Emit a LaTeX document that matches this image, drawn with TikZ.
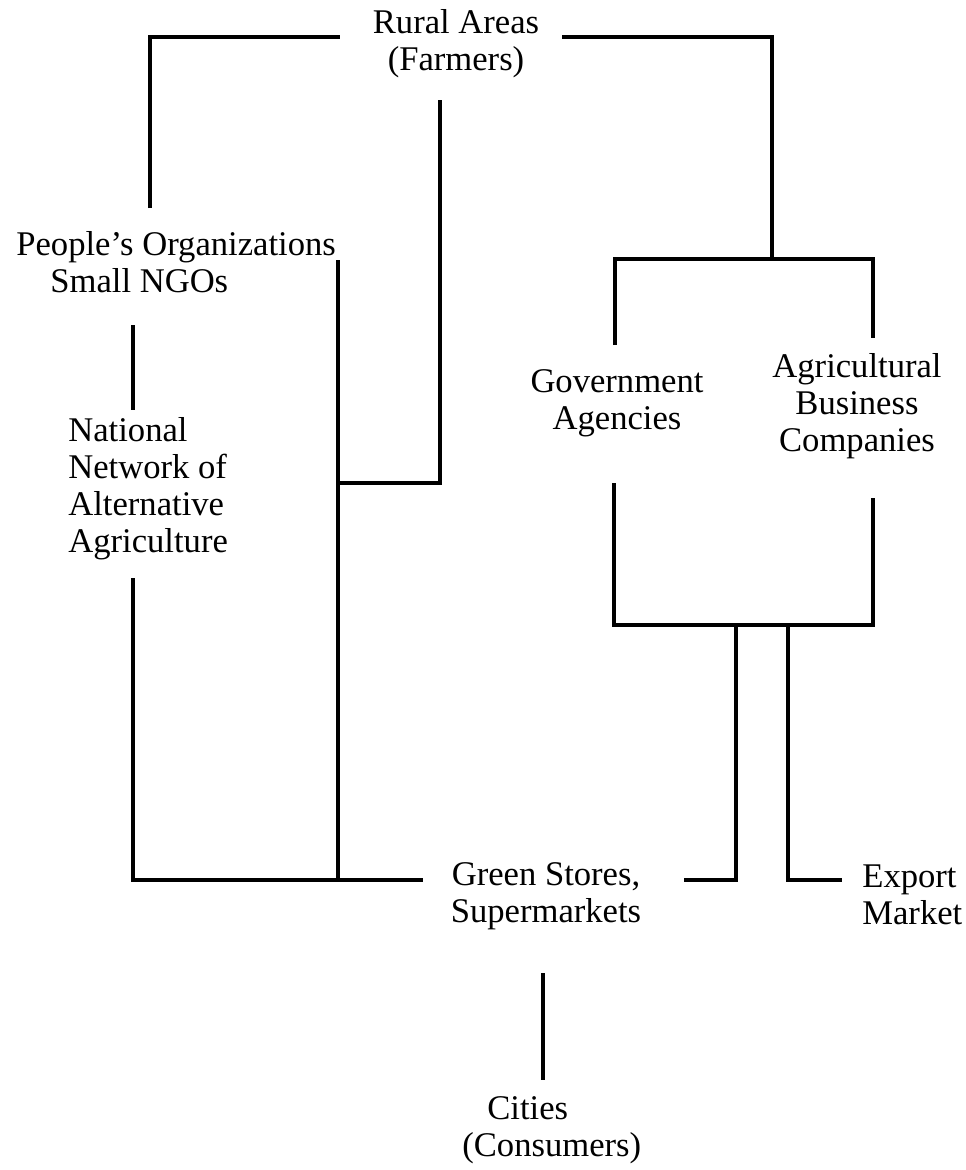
\documentclass[tikz,border=0pt]{standalone}
\usepackage{fontspec}
\setmainfont{Liberation Serif}
\begin{document}
\begin{tikzpicture}[x=0.02cm, y=-0.02cm,
    link/.style={line width=1.9pt, black},
    lbl/.style={font=\fontsize{19.7}{21}\selectfont, inner sep=0pt}]
        \useasboundingbox (0,0) rectangle (966,1170);

        % texts
        \node[lbl, align=center] (rural) at (456,44) {Rural Areas\\(Farmers)};
        \node[lbl, align=left, anchor=west] (people) at (16,262) {People's Organizations\\\hspace*{0.68cm}Small NGOs};
        \node[lbl, align=left, anchor=west] (network) at (68,489) {National\\Network of\\Alternative\\Agriculture};
        \node[lbl, align=center] (gov) at (617,403) {Government\\Agencies};
        \node[lbl, align=center] (agri) at (857,406) {Agricultural\\Business\\Companies};
        \node[lbl, align=center] (green) at (546,896) {Green Stores,\\Supermarkets};
        \node[lbl, align=left, anchor=west] (export) at (862,895) {Export\\Market};
        \node[lbl, align=left, anchor=west] (cities) at (462,1130) {\hspace*{0.5cm}Cities\\(Consumers)};

        % line ends
        \coordinate (ruralL) at (340,37);
        \coordinate (ruralR) at (562,37);
        \coordinate (ruralB) at (440,100);
        \coordinate (peopleT) at (150,208);
        \coordinate (peopleB) at (133,325);
        \coordinate (networkT) at (133,410);
        \coordinate (networkB) at (133,578);
        \coordinate (split) at (772,259);
        \coordinate (govT) at (615,345);
        \coordinate (agriT) at (873,338);
        \coordinate (govB) at (614,483);
        \coordinate (agriB) at (873,498);
        \coordinate (join) at (736,625);
        \coordinate (exportJ) at (788,625);
        \coordinate (midT) at (338,260);
        \coordinate (midB) at (338,880);
        \coordinate (greenL) at (423,880);
        \coordinate (greenR) at (684,880);
        \coordinate (exportL) at (842,880);
        \coordinate (greenB) at (543,973);
        \coordinate (citiesT) at (543,1080);

        % top
        \draw[link] (peopleT) |- (ruralL);
        \draw[link] (ruralR) -| (split);
        \draw[link] (govT) |- (split) -| (agriT);
        \draw[link] (ruralB) |- (338,483);

        % left side
        \draw[link] (peopleB) -- (networkT);
        \draw[link] (midT) -- (midB);
        \draw[link] (networkB) |- (greenL);

        % right side
        \draw[link] (govB) |- (join) -| (agriB);
        \draw[link] (join) |- (greenR);
        \draw[link] (exportJ) |- (exportL);

        % bottom
        \draw[link] (greenB) -- (citiesT);
    \end{tikzpicture}
\end{document}
